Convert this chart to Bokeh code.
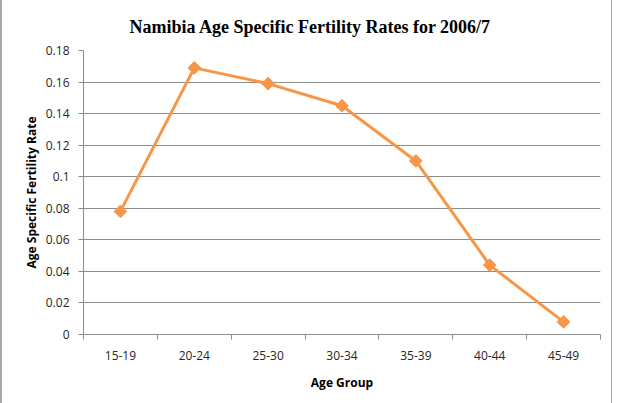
import math
from bokeh.plotting import figure
from bokeh.models import ColumnDataSource, FixedTicker, Range1d
from bokeh.embed import file_html
from bokeh.resources import INLINE

# Age specific fertility rates, Namibia 2006/7
age_groups = ["15-19", "20-24", "25-30", "30-34", "35-39", "40-44", "45-49"]
fertility_rates = [0.078, 0.169, 0.159, 0.145, 0.110, 0.044, 0.008]
y_ticks = [0, 0.02, 0.04, 0.06, 0.08, 0.1, 0.12, 0.14, 0.16, 0.18]

ORANGE = "#F79646"
GRID = "#8C8C8C"
TEXT = "#262626"

# each age group sits in the middle of its own unit-wide slot
positions = [i + 0.5 for i in range(len(age_groups))]
source = ColumnDataSource(dict(x=positions, y=fertility_rates, group=age_groups))

p = figure(width=612, height=403, output_backend="svg", toolbar_location=None,
           x_range=Range1d(0, len(age_groups)), y_range=Range1d(0, 0.18),
           min_border_left=81, min_border_right=14, min_border_top=50,
           min_border_bottom=69, background_fill_color="white",
           border_fill_color="white")

# thin grey verticals framing the chart area
p.styles = {"border-left": "2px solid #A8A8A8",
            "border-right": "1px solid #A8A8A8"}

p.title.text = "Namibia Age Specific Fertility Rates for 2006/7"
p.title.align = "left"
p.title.offset = 46
p.title.text_font = "Liberation Serif"
p.title.text_font_style = "bold"
p.title.text_font_size = "18px"
p.title.text_color = "#000000"
p.title.standoff = 28

p.outline_line_color = None

# y axis
p.yaxis.ticker = FixedTicker(ticks=y_ticks)
p.yaxis.major_label_overrides = {0: "0", 0.1: "0.1"}
p.yaxis.formatter.use_scientific = False
p.yaxis.axis_label = "Age Specific Fertility Rate"
p.yaxis.axis_label_text_font = "Open Sans"
p.yaxis.axis_label_text_font_style = "bold"
p.yaxis.axis_label_text_font_size = "12px"
p.yaxis.axis_label_text_color = "#000000"
p.yaxis.axis_label_standoff = 3
p.yaxis.major_label_text_font = "Open Sans"
p.yaxis.major_label_text_font_size = "12px"
p.yaxis.major_label_text_color = TEXT
p.yaxis.major_tick_out = 5
p.yaxis.major_tick_in = 0
p.yaxis.major_label_standoff = 9
p.yaxis.minor_tick_line_color = None
p.yaxis.axis_line_color = GRID
p.yaxis.major_tick_line_color = GRID

# x axis: labels in slot centres, tick marks on slot boundaries
p.xaxis.ticker = FixedTicker(ticks=positions,
                             minor_ticks=list(range(len(age_groups) + 1)))
p.xaxis.major_label_overrides = {pos: g for pos, g in zip(positions, age_groups)}
p.xaxis.major_tick_line_color = None
p.xaxis.major_tick_out = 5
p.xaxis.minor_tick_out = 5
p.xaxis.minor_tick_in = 0
p.xaxis.minor_tick_line_color = GRID
p.xaxis.axis_line_color = GRID
p.xaxis.major_label_standoff = 11
p.xaxis.major_label_text_font = "Open Sans"
p.xaxis.major_label_text_font_size = "12px"
p.xaxis.major_label_text_color = TEXT
p.xaxis.axis_label = "Age Group"
p.xaxis.axis_label_text_font = "Open Sans"
p.xaxis.axis_label_text_font_style = "bold"
p.xaxis.axis_label_text_font_size = "12px"
p.xaxis.axis_label_text_color = "#000000"
p.xaxis.axis_label_standoff = 11

p.xgrid.grid_line_color = None
p.ygrid.grid_line_color = GRID
p.ygrid.grid_line_width = 1

p.line("x", "y", source=source, line_color=ORANGE, line_width=3)
p.scatter("x", "y", source=source, marker="square", angle=math.pi / 4,
          size=9, fill_color=ORANGE, line_color=ORANGE)

open("out.html", "w").write(file_html(p, INLINE))
